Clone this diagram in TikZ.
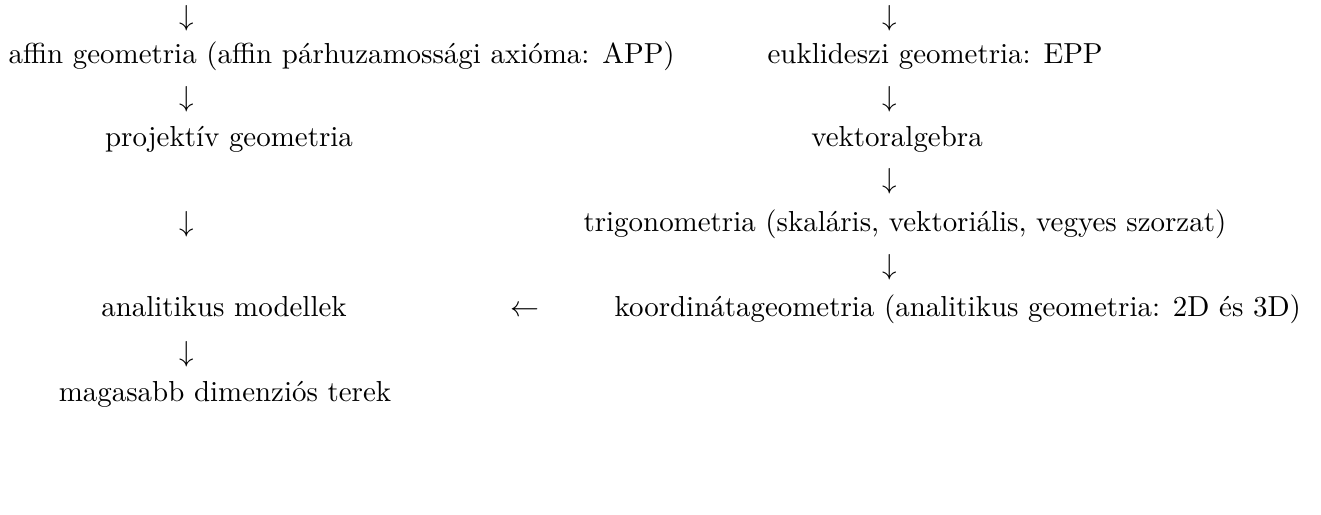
\documentclass[tikz,border=0pt]{standalone}
\usepackage{fontspec}
\begin{document}
\begin{tikzpicture}[x=0.3455pt,y=-0.3455pt,
  lbl/.style={anchor=base,inner sep=0pt},
  nyil/.style={anchor=base,inner sep=0pt}]
  \useasboundingbox (0,0) rectangle (1321,514);
  % bal oszlop
  \node[nyil] (bn0) at (187,25) {$\downarrow$};
  \node[lbl,anchor=base west] (affin) at (8,63) {affin geometria (affin párhuzamossági axióma: APP)};
  \node[nyil] (bn1) at (187,106) {$\downarrow$};
  \node[lbl] (proj) at (229,146) {projektív geometria};
  \node[nyil] (bn2) at (187,231) {$\downarrow$};
  \node[lbl] (anal) at (224,316) {analitikus modellek};
  \node[nyil] (bn3) at (187,361) {$\downarrow$};
  \node[lbl] (magas) at (225,401) {magasabb dimenziós terek};
  % jobb oszlop
  \node[nyil] (jn0) at (890,25) {$\downarrow$};
  \node[lbl,anchor=base west] (euklid) at (767,63) {euklideszi geometria: EPP};
  \node[nyil] (jn1) at (890,106) {$\downarrow$};
  \node[lbl] (vektor) at (897,146) {vektoralgebra};
  \node[nyil] (jn2) at (890,188) {$\downarrow$};
  \node[lbl,anchor=base west] (trigo) at (583,231) {trigonometria (skaláris, vektoriális, vegyes szorzat)};
  \node[nyil] (jn3) at (890,274) {$\downarrow$};
  \node[lbl,anchor=base west] (koord) at (614,316) {koordinátageometria (analitikus geometria: 2D és 3D)};
  % kozepso nyil
  \node[nyil] (balra) at (525,316) {$\leftarrow$};
\end{tikzpicture}
\end{document}
